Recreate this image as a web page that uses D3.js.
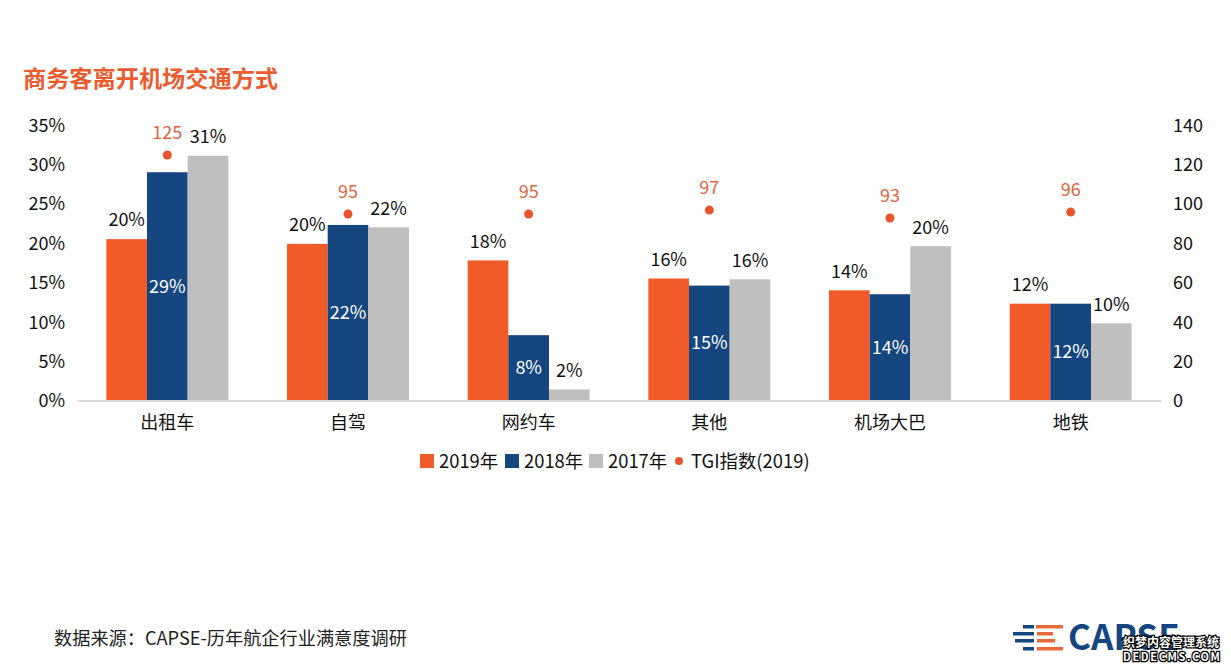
<!DOCTYPE html>
<html>
<head>
<meta charset="utf-8">
<script src="https://cdn.jsdelivr.net/npm/d3@7"></script>
<style>
html, body { margin: 0; padding: 0; background: #fff; overflow: hidden; }
svg { display: block; }
text { font-family: "Noto Sans CJK SC", "Noto Sans", sans-serif; }
</style>
</head>
<body>
<svg id="chart"></svg>
<script>
const categories = ["出租车", "自驾", "网约车", "其他", "机场大巴", "地铁"];
const seriesNames = ["2019年", "2018年", "2017年"];
const values2019 = [20.5, 19.9, 17.8, 15.5, 14.0, 12.3];
const values2018 = [29.0, 22.3, 8.3, 14.6, 13.5, 12.3];
const values2017 = [31.1, 22.0, 1.4, 15.4, 19.6, 9.8];
const labels2019 = ["20%", "20%", "18%", "16%", "14%", "12%"];
const labels2018 = ["29%", "22%", "8%", "15%", "14%", "12%"];
const labels2017 = ["31%", "22%", "2%", "16%", "20%", "10%"];
const tgiValues = [125, 95, 95, 97, 93, 96];
const tgiName = "TGI指数(2019)";
const leftTicks = [0, 5, 10, 15, 20, 25, 30, 35];
const rightTicks = [0, 20, 40, 60, 80, 100, 120, 140];
const titleText = "商务客离开机场交通方式";
const sourceText = "数据来源：CAPSE-历年航企行业满意度调研";

const colors = ["#f15a29", "#164680", "#bfbfbf"];
const tgiColor = "#e8552d";
const tgiTextColor = "#e0653f";

const width = 1231;
const height = 670;
const margin = { top: 125, right: 70, bottom: 269.5, left: 77 };
const fontSize = 18;

const svg = d3.select("#chart").attr("width", width).attr("height", height);

const xScale = d3
  .scaleBand()
  .domain(categories)
  .range([margin.left, width - margin.right])
  .paddingInner(0.325)
  .paddingOuter(0.1625);

const subScale = d3
  .scaleBand()
  .domain(seriesNames)
  .range([0, xScale.bandwidth()]);

const yScale = d3
  .scaleLinear()
  .domain([0, 35])
  .range([height - margin.bottom, margin.top]);

const tgiScale = d3
  .scaleLinear()
  .domain([0, 140])
  .range([height - margin.bottom, margin.top]);

svg
  .append("text")
  .attr("x", 23)
  .attr("y", 87)
  .attr("font-size", 23.2)
  .attr("font-weight", 700)
  .attr("fill", "#ea5c2f")
  .text(titleText);

const seriesList = [
  { name: seriesNames[0], values: values2019, labels: labels2019, color: colors[0] },
  { name: seriesNames[1], values: values2018, labels: labels2018, color: colors[1] },
  { name: seriesNames[2], values: values2017, labels: labels2017, color: colors[2] }
];

// bars
seriesList.forEach((s) => {
  svg
    .append("g")
    .selectAll("rect")
    .data(categories)
    .enter()
    .append("rect")
    .attr("x", (d) => xScale(d) + subScale(s.name))
    .attr("y", (d, i) => yScale(s.values[i]))
    .attr("width", subScale.bandwidth())
    .attr("height", (d, i) => yScale(0) - yScale(s.values[i]))
    .attr("fill", s.color);
});

// axes
const leftAxis = svg
  .append("g")
  .attr("transform", `translate(${margin.left - 12},0.5)`)
  .call(d3.axisLeft(yScale).tickValues(leftTicks).tickSize(0).tickPadding(0).tickFormat((d) => d + "%"));
leftAxis.select(".domain").remove();

const rightAxis = svg
  .append("g")
  .attr("transform", `translate(${width - margin.right + 12},0.5)`)
  .call(d3.axisRight(tgiScale).tickValues(rightTicks).tickSize(0).tickPadding(0));
rightAxis.select(".domain").remove();

const bottomAxis = svg
  .append("g")
  .attr("transform", `translate(0,${height - margin.bottom})`)
  .call(d3.axisBottom(xScale).tickSize(0).tickSizeOuter(0).tickPadding(16));
bottomAxis.select(".domain").attr("stroke", "#d9d9d9").attr("stroke-width", 2);

svg
  .selectAll("g text")
  .style("font-family", '"Noto Sans CJK SC", "Noto Sans", sans-serif')
  .style("font-size", fontSize + "px")
  .style("fill", "#111");

// bar labels, 2018 sits inside the bar in white
seriesList.forEach((s, si) => {
  svg
    .append("g")
    .selectAll("text")
    .data(categories)
    .enter()
    .append("text")
    .attr("x", (d) => xScale(d) + subScale(s.name) + subScale.bandwidth() / 2)
    .attr("y", (d, i) =>
      si === 1 ? (yScale(s.values[i]) + yScale(0)) / 2 : yScale(s.values[i]) - 19
    )
    .attr("dy", "0.35em")
    .attr("text-anchor", "middle")
    .attr("font-size", fontSize)
    .attr("fill", si === 1 ? "#fff" : "#111")
    .text((d, i) => s.labels[i]);
});

// TGI dots and labels
svg
  .append("g")
  .selectAll("circle")
  .data(categories)
  .enter()
  .append("circle")
  .attr("cx", (d) => xScale(d) + xScale.bandwidth() / 2)
  .attr("cy", (d, i) => tgiScale(tgiValues[i]) + 0.5)
  .attr("r", 4.5)
  .attr("fill", tgiColor);

svg
  .append("g")
  .selectAll("text")
  .data(categories)
  .enter()
  .append("text")
  .attr("x", (d) => xScale(d) + xScale.bandwidth() / 2)
  .attr("y", (d, i) => tgiScale(tgiValues[i]) - 21.5)
  .attr("dy", "0.35em")
  .attr("text-anchor", "middle")
  .attr("font-size", fontSize)
  .attr("fill", tgiTextColor)
  .text((d, i) => tgiValues[i]);

// legend
const legendY = 461;
const legendFont = 18.4;
const legendItems = [
  { name: seriesNames[0], color: colors[0], x: 420 },
  { name: seriesNames[1], color: colors[1], x: 505 },
  { name: seriesNames[2], color: colors[2], x: 589 }
];
legendItems.forEach((item) => {
  svg
    .append("rect")
    .attr("x", item.x)
    .attr("y", legendY - 7)
    .attr("width", 14)
    .attr("height", 14)
    .attr("fill", item.color);
  svg
    .append("text")
    .attr("x", item.x + 19)
    .attr("y", legendY + 1)
    .attr("dy", "0.35em")
    .attr("font-size", legendFont)
    .attr("fill", "#111")
    .text(item.name);
});
svg
  .append("circle")
  .attr("cx", 679)
  .attr("cy", legendY)
  .attr("r", 4)
  .attr("fill", tgiColor);
svg
  .append("text")
  .attr("x", 691)
  .attr("y", legendY + 1)
  .attr("dy", "0.35em")
  .attr("font-size", legendFont)
  .attr("fill", "#111")
  .text(tgiName);

// source line
svg
  .append("text")
  .attr("x", 54)
  .attr("y", 639)
  .attr("dy", "0.35em")
  .attr("font-size", 18.2)
  .attr("fill", "#222")
  .text(sourceText);

// logo
const logo = svg.append("g");
[[1023, 1034, 625], [1013, 1034, 632], [1015, 1034, 639], [1023, 1034, 647]].forEach(([x0, x1, y]) => {
  logo.append("rect").attr("x", x0).attr("y", y).attr("width", x1 - x0).attr("height", 3.5).attr("fill", "#164680");
});
[[1036, 1063, 625], [1037, 1053, 632], [1037, 1055, 639], [1037, 1063, 647]].forEach(([x0, x1, y]) => {
  logo.append("rect").attr("x", x0).attr("y", y).attr("width", x1 - x0).attr("height", 3.5).attr("fill", "#e8693a");
});
logo
  .append("text")
  .attr("x", 1068)
  .attr("y", 650)
  .attr("font-size", 35)
  .attr("font-weight", 700)
  .attr("fill", "#164680")
  .text("CAPSE");

// watermark over the logo
const mark = svg.append("g").attr("fill", "#fff").attr("stroke", "#000").attr("stroke-width", 2.5).style("paint-order", "stroke");
mark.append("text").attr("x", 1123).attr("y", 647).attr("font-size", 12).attr("font-weight", 700).text("织梦内容管理系统");
mark.append("text").attr("x", 1123).attr("y", 661).attr("font-size", 11).attr("font-weight", 700).attr("letter-spacing", 1.6).text("DEDECMS.COM");
</script>
</body>
</html>
